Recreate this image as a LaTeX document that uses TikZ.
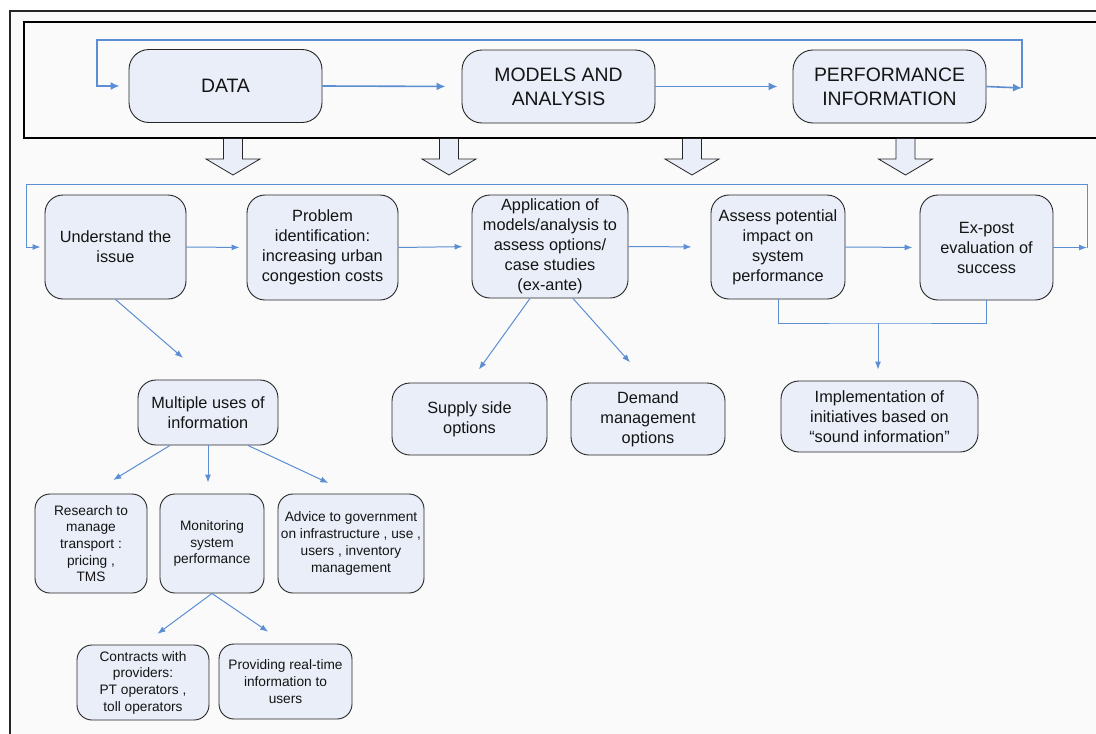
\documentclass[tikz,border=0pt]{standalone}
\usepackage{fontspec}
\setmainfont{Liberation Sans}
\usetikzlibrary{arrows.meta,calc}
\definecolor{bg}{HTML}{FAFAFA}
\definecolor{boxfill}{HTML}{E9EEF8}
\definecolor{lineblue}{HTML}{5B8ED2}
\begin{document}
\begin{tikzpicture}[x=1pt,y=-1pt,
 box/.style={draw=black!85, fill=boxfill, line width=0.9pt, rounded corners=18pt, align=center, inner sep=0pt, text=black!92},
 topbox/.style={box, font=\fontsize{19.4}{24}\selectfont, minimum width=193pt, minimum height=73pt, rounded corners=20pt},
 midbox/.style={box, font=\fontsize{16.3}{20}\selectfont},
 smallbox/.style={box, font=\fontsize{13.7}{16.7}\selectfont, rounded corners=15pt},
 toparr/.style={draw=lineblue, line width=1.6pt, -{Latex[length=9pt,width=8pt]}},
 arr/.style={draw=lineblue, line width=1pt, -{Latex[length=8pt,width=6pt]}},
 plain/.style={draw=lineblue, line width=1pt},
 blockarrow/.style={draw=black!85, fill=boxfill, line width=0.8pt},
]
\useasboundingbox (0,0) rectangle (1096,734);
\begin{scope}
\clip (0,0) rectangle (1096,734);
\fill[bg] (10,11) rectangle (1110,750);
\draw[line width=2pt, black!85] (10,11) rectangle (1110,750);
\draw[line width=1.5pt, black] (24,22) rectangle (1110,138);
\end{scope}

% block arrows
\foreach \cx in {233,449,692,905.5}
  \draw[blockarrow] ({\cx-9.5},138.8) -- ({\cx-9.5},159) -- ({\cx-27},159) -- (\cx,175) -- ({\cx+27},159) -- ({\cx+9.5},159) -- ({\cx+9.5},138.8);

% top row
\node[topbox] (data) at (225.5,86) {DATA};
\node[topbox] (models) at (558.5,86.5) {MODELS AND\\ANALYSIS};
\node[topbox] (perf) at (889.5,86.5) {PERFORMANCE\\INFORMATION};

% second row
\node[midbox, minimum width=141pt, minimum height=104pt] (und) at (115.5,247) {Understand the\\issue};
\node[midbox, minimum width=151pt, minimum height=105pt] (prob) at (322.5,247.5) {Problem\\identification:\\increasing urban\\congestion costs};
\node[midbox, minimum width=156pt, minimum height=103pt] (app) at (550,246.5) {Application of\\models/analysis to\\assess options/\\case studies\\(ex-ante)};
\node[midbox, minimum width=134pt, minimum height=104pt] (assess) at (778,247) {Assess potential\\impact on\\system\\performance};
\node[midbox, minimum width=133pt, minimum height=105pt] (expost) at (986.5,247.5) {Ex-post\\evaluation of\\success};

% third row
\node[midbox, minimum width=140pt, minimum height=65pt] (multi) at (208,412.5) {Multiple uses of\\information};
\node[midbox, minimum width=155pt, minimum height=72pt] (supply) at (469.5,419) {Supply side\\options};
\node[midbox, minimum width=154pt, minimum height=72pt] (demand) at (648,419) {Demand\\management\\options};
\node[midbox, minimum width=197pt, minimum height=71pt] (impl) at (879.5,416.5) {Implementation of\\initiatives based on\\“sound information”};

% fourth row
\node[smallbox, minimum width=112pt, minimum height=99pt] (research) at (91,543.5) {Research to\\manage\\transport :\\pricing ,\\TMS};
\node[smallbox, minimum width=104pt, minimum height=99pt] (monitor) at (212,543.5) {Monitoring\\system\\performance};
\node[smallbox, minimum width=146pt, minimum height=99pt] (advice) at (351,543.5) {Advice to government\\on infrastructure , use ,\\users , inventory\\management};

% fifth row
\node[smallbox, minimum width=132pt, minimum height=75pt] (contracts) at (143,682.5) {Contracts with\\providers:\\PT operators ,\\toll operators};
\node[smallbox, minimum width=133pt, minimum height=75pt] (providing) at (285.5,681.5) {Providing real-time\\information to\\users};

% top connectors
\draw[toparr, shorten >=16pt] (data.east) -- (models.west);
\draw[toparr, shorten >=15pt] (models.east) -- (perf.west);
\coordinate (tr) at (1022,88);
\coordinate (tl) at (97,40);
\draw[toparr] (perf.east) -- (tr);
\draw[toparr, shorten >=9pt] (tr) |- (tl) |- (data.west);

% second row connectors
\draw[arr, shorten >=7pt] (und.east) -- (prob.west);
\draw[arr, shorten >=9pt] (prob.east) -- (app.west);
\draw[arr, shorten >=19pt] (app.east) -- (assess.west);
\draw[arr, shorten >=7pt] (assess.east) -- (expost.west);
\coordinate (rr) at (1087,247.5);
\coordinate (rl) at (26,184);
\draw[arr] (expost.east) -- (rr);
\draw[arr, shorten >=4pt] (rr) |- (rl) |- (und.west);

% bracket to implementation
\coordinate (bm) at (878,323);
\draw[plain] (assess.south) |- (bm) -| (expost.south);
\draw[arr, shorten >=11pt] (bm) -- (bm |- impl.north);

% diagonals
\draw[arr, shorten >=33pt] (und.south) -- (multi.north);
\draw[arr, shorten >=16pt] ([xshift=-20pt]app.south) -- (supply.north);
\draw[arr, shorten >=27pt] ([xshift=23pt]app.south) -- (demand.north);
\draw[arr, shorten >=26pt] ([xshift=-38pt]multi.south) -- (research.north);
\draw[arr, shorten >=11pt] (multi.south) -- (multi.south |- monitor.north);
\draw[arr, shorten >=25pt] ([xshift=40pt]multi.south) -- (advice.north);
\draw[arr, shorten >=18pt] (monitor.south) -- (contracts.north);
\draw[arr, shorten >=21pt] (monitor.south) -- (providing.north);
\end{tikzpicture}
\end{document}
